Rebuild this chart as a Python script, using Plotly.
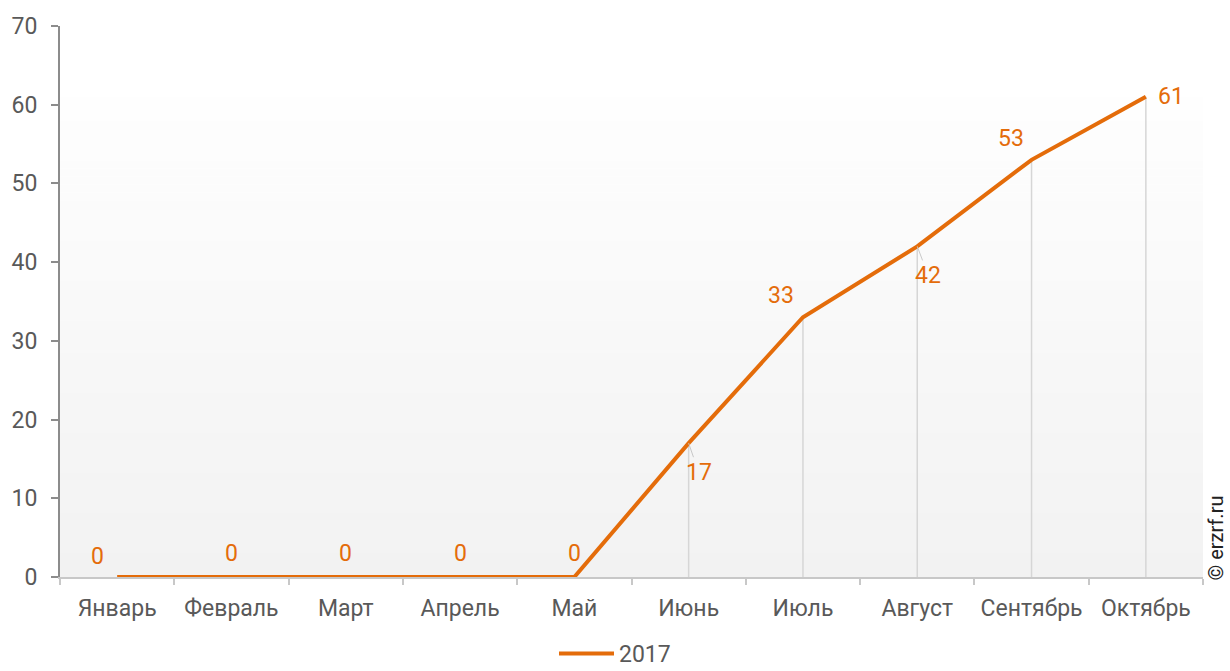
import plotly.graph_objects as go

# Monthly values for 2017
months = ["Январь", "Февраль", "Март", "Апрель", "Май",
          "Июнь", "Июль", "Август", "Сентябрь", "Октябрь"]
values_2017 = [0, 0, 0, 0, 0, 17, 33, 42, 53, 61]
series_name = "2017"
y_ticks = [0, 10, 20, 30, 40, 50, 60, 70]

# Label placement offsets (px) per point
label_dx = [-20, 0, 0, 0, 0, 10, -22, 11, -21, 25]
label_dy = [21, 24, 24, 24, 24, -29, 22, -29, 21, 0]
label_leader = [False, False, False, False, False, True, False, True, False, False]

ORANGE = "#E46C0A"
TEXT = "#595959"
FONT = "Roboto"
FS = 23

fig = go.Figure()

fig.add_trace(go.Scatter(
    x=months, y=values_2017, mode="lines", name=series_name,
    line=dict(color=ORANGE, width=4),
    hoverinfo="skip",
))

shapes = []
# Soft vertical gradient behind the plot, up to the series maximum
top_val = max(values_2017)
n_bands = 60
c_top = (254, 254, 254)
c_bot = (242, 242, 242)
for i in range(n_bands):
    t = i / (n_bands - 1)
    c = tuple(round(c_bot[k] + (c_top[k] - c_bot[k]) * t) for k in range(3))
    shapes.append(dict(
        type="rect", xref="paper", yref="y", layer="below",
        x0=0, x1=1,
        y0=top_val * i / n_bands, y1=top_val * (i + 1) / n_bands,
        fillcolor="rgb(%d,%d,%d)" % c, line=dict(width=0),
    ))

# Drop lines from each point down to the axis
for m, v in zip(months, values_2017):
    if v > 0:
        shapes.append(dict(
            type="line", xref="x", yref="y", layer="below",
            x0=m, x1=m, y0=0, y1=v,
            line=dict(color="#d6d6d6", width=1.5),
        ))

annotations = []
for m, v, dx, dy, lead in zip(months, values_2017, label_dx, label_dy, label_leader):
    if lead:
        annotations.append(dict(
            x=m, y=v, xref="x", yref="y", text=str(v),
            showarrow=True, arrowhead=0, arrowwidth=1, arrowcolor="#c8c8c8",
            ax=dx, ay=-dy, standoff=0,
            font=dict(family=FONT, size=FS, color=ORANGE),
        ))
    else:
        annotations.append(dict(
            x=m, y=v, xref="x", yref="y", text=str(v), showarrow=False,
            xshift=dx, yshift=dy,
            font=dict(family=FONT, size=FS, color=ORANGE),
        ))

# Copyright mark along the right edge
annotations.append(dict(
    x=1, y=0, xref="paper", yref="paper", xanchor="right", yanchor="bottom",
    xshift=26, yshift=-6, text="© erzrf.ru", textangle=-90, showarrow=False,
    font=dict(family=FONT, size=20, color="#222222"),
))

fig.update_layout(
    width=1230, height=671,
    margin=dict(l=60, r=27, t=26, b=94, autoexpand=False),
    paper_bgcolor="white", plot_bgcolor="white",
    font=dict(family=FONT, size=FS, color=TEXT),
    shapes=shapes, annotations=annotations,
    showlegend=True,
    legend=dict(orientation="h", xref="container", yref="container",
                x=0.5, xanchor="center", y=0.026, yanchor="middle",
                font=dict(family=FONT, size=FS, color=TEXT), itemwidth=55,
                bgcolor="rgba(0,0,0,0)"),
    xaxis=dict(
        type="category", range=[-0.5, len(months) - 0.5], automargin=False,
        showgrid=False, zeroline=False,
        showline=True, linecolor="#c8c8c8", linewidth=2,
        ticks="outside", tickson="boundaries", ticklen=6, tickcolor="#c8c8c8", tickwidth=2,
        ticklabelstandoff=9,
        tickfont=dict(family=FONT, size=FS, color=TEXT),
    ),
    yaxis=dict(
        range=[0, 70], tickvals=y_ticks, automargin=False,
        showgrid=False, zeroline=False,
        showline=True, linecolor="#8c8c8c", linewidth=2,
        ticks="outside", ticklen=7, tickcolor="#8c8c8c", tickwidth=1.5,
        ticklabelstandoff=9,
        tickfont=dict(family=FONT, size=FS, color=TEXT),
    ),
)

fig.write_html("out.html")
